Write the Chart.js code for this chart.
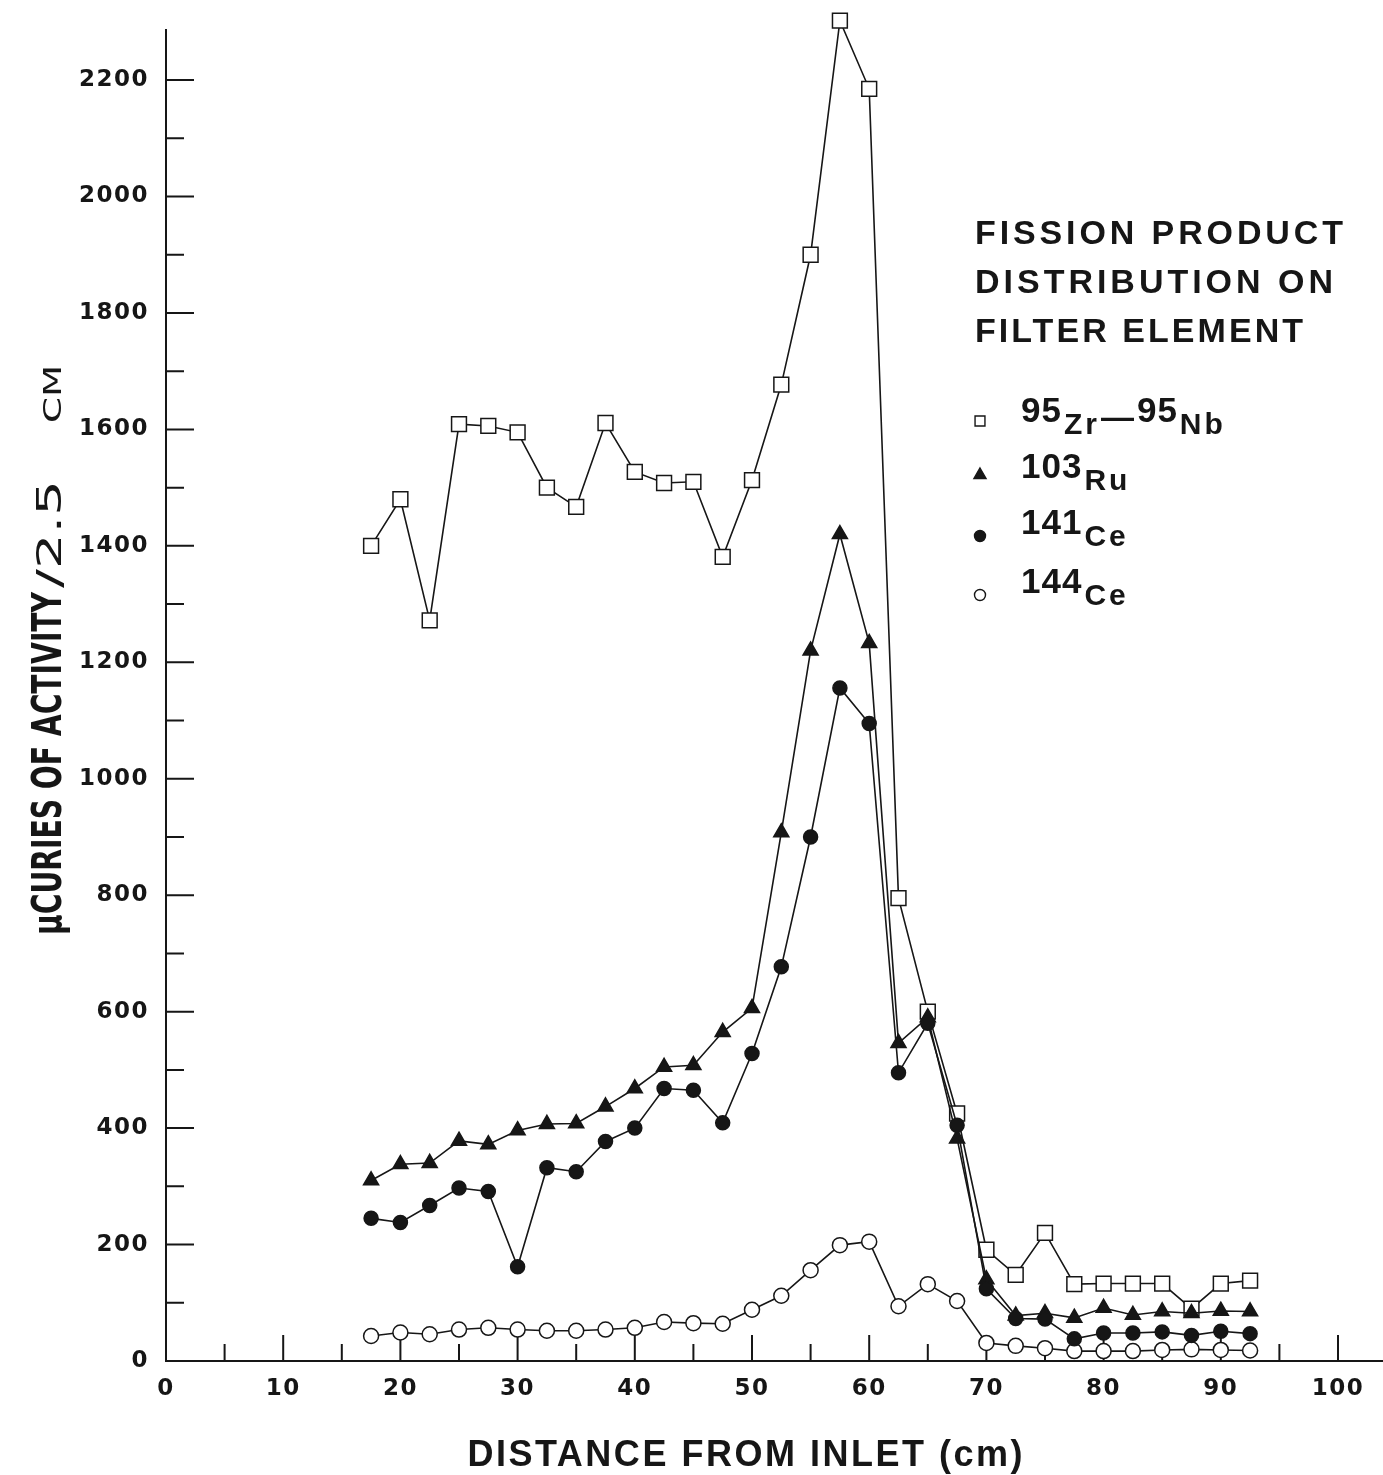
<!DOCTYPE html>
<html>
<head>
<meta charset="utf-8">
<title>Fission product distribution on filter element</title>
<script src="https://cdn.jsdelivr.net/npm/chart.js@4.4.1/dist/chart.umd.min.js"></script>
<style>
  html, body { margin: 0; padding: 0; background: #fff; }
  #wrap { width: 1383px; height: 1475px; }
</style>
</head>
<body>
<div id="wrap"><canvas id="fissionChart" width="1383" height="1475"></canvas></div>
<script>
// distance from inlet (cm), one sample every 2.5 cm
const distance = [17.5, 20, 22.5, 25, 27.5, 30, 32.5, 35, 37.5, 40, 42.5, 45, 47.5, 50, 52.5,
                  55, 57.5, 60, 62.5, 65, 67.5, 70, 72.5, 75, 77.5, 80, 82.5, 85, 87.5, 90, 92.5];

// microcuries of activity per 2.5 cm
const zrNb  = [1400, 1480, 1272, 1609, 1606, 1595, 1500, 1467, 1611, 1527, 1508, 1510, 1381, 1513, 1677,
               1900, 2302, 2185, 795, 600, 425, 191, 148, 220, 132, 133, 133, 133, 90, 133, 138];
const ru103 = [310, 338, 340, 378, 372, 396, 407, 408, 437, 468, 505, 508, 565, 606, 908,
               1220, 1420, 1233, 546, 590, 382, 140, 78, 82, 74, 91, 79, 85, 82, 86, 85];
const ce141 = [245, 238, 267, 297, 291, 162, 332, 325, 377, 400, 468, 465, 409, 528, 677,
               900, 1156, 1095, 495, 580, 405, 124, 73, 72, 38, 48, 48, 50, 44, 51, 47];
const ce144 = [43, 49, 46, 54, 57, 54, 52, 52, 54, 57, 67, 65, 64, 88, 112,
               156, 199, 205, 94, 132, 103, 31, 26, 22, 17, 17, 17, 19, 20, 19, 18];

// legend: mass numbers and element symbols
const isotopeMass   = [['95', '95'], ['103'], ['141'], ['144']];
const isotopeSymbol = [['Zr', 'Nb'], ['Ru'], ['Ce'], ['Ce']];

// tick positions and which of them carry a number
const xTickValues = [0, 5, 10, 15, 20, 25, 30, 35, 40, 45, 50, 55, 60, 65, 70, 75, 80, 85, 90, 95, 100];
const xTickLabels = [0, 10, 20, 30, 40, 50, 60, 70, 80, 90, 100];
const yTickValues = [0, 100, 200, 300, 400, 500, 600, 700, 800, 900, 1000, 1100, 1200,
                     1300, 1400, 1500, 1600, 1700, 1800, 1900, 2000, 2100, 2200];
const yTickLabels = [0, 200, 400, 600, 800, 1000, 1200, 1400, 1600, 1800, 2000, 2200];

const INK = '#161616';
const SANS = '"Liberation Sans", Arial, Helvetica, sans-serif';
const WIDE = '"DejaVu Sans", "Liberation Sans", sans-serif';
const NARROW = '"Liberation Sans Narrow", "DejaVu Sans Condensed", "Liberation Sans", sans-serif';

Chart.defaults.font.family = WIDE;
Chart.defaults.color = INK;

const points = vals => distance.map((d, i) => ({ x: d, y: vals[i] }));

function series(label, vals, style, radius, fill, order) {
    return {
        label: label,
        data: points(vals),
        borderColor: INK,
        borderWidth: 1.6,
        tension: 0,
        pointStyle: style,
        pointRadius: radius,
        pointBackgroundColor: fill,
        pointBorderColor: INK,
        pointBorderWidth: 1.5,
        order: order,
        clip: false,
    };
}

const legendLabel = i => isotopeMass[i].map((m, k) => m + isotopeSymbol[i][k]).join('—');

// text spread out to a given width (the original lettering is widely tracked)
function spacedText(ctx, text, x, y, font, width, align) {
    ctx.font = font;
    ctx.letterSpacing = '0px';
    const w0 = ctx.measureText(text).width;
    const gap = (width - w0) / (text.length - 1);
    ctx.letterSpacing = gap + 'px';
    ctx.textAlign = 'left';
    ctx.fillText(text, align === 'center' ? x - width / 2 : x, y);
    ctx.letterSpacing = '0px';
}

// text squeezed / stretched to a given length
function fittedText(ctx, text, x, y, font, width) {
    ctx.font = font;
    ctx.letterSpacing = '0px';
    const w0 = ctx.measureText(text).width;
    ctx.save();
    ctx.translate(x, y);
    ctx.scale(width / w0, 1);
    ctx.textAlign = 'left';
    ctx.fillText(text, 0, 0);
    ctx.restore();
}

const axisFurniture = {
    id: 'axisFurniture',
    beforeDraw(chart) {
        chart.ctx.letterSpacing = '1.5px';   // tick numerals
    },
    beforeDatasetsDraw(chart) {
        const { ctx, chartArea, scales: { x, y } } = chart;
        ctx.save();
        ctx.strokeStyle = INK;
        ctx.lineWidth = 2;
        ctx.beginPath();
        // ticks point into the plot
        y.ticks.forEach(t => {
            const py = y.getPixelForValue(t.value);
            const len = yTickLabels.includes(t.value) ? 28 : 18;
            ctx.moveTo(chartArea.left, py);
            ctx.lineTo(chartArea.left + len, py);
        });
        x.ticks.forEach(t => {
            const px = x.getPixelForValue(t.value);
            const len = xTickLabels.includes(t.value) ? 26 : 17;
            ctx.moveTo(px, chartArea.bottom);
            ctx.lineTo(px, chartArea.bottom - len);
        });
        // axis runs on past 100 to the edge of the sheet
        ctx.moveTo(chartArea.right, chartArea.bottom);
        ctx.lineTo(chart.width, chartArea.bottom);
        ctx.stroke();
        ctx.restore();
    },
    afterDraw(chart) {
        const ctx = chart.ctx;
        ctx.save();
        ctx.letterSpacing = '0px';
        ctx.fillStyle = INK;
        ctx.textBaseline = 'alphabetic';

        // x title
        spacedText(ctx, 'DISTANCE FROM INLET (cm)', 745, 1466, 'bold 36px ' + SANS, 555, 'center');

        // y title, reading upwards
        ctx.save();
        ctx.translate(61, 935);
        ctx.rotate(-Math.PI / 2);
        fittedText(ctx, 'μCURIES OF ACTIVITY', 0, 0, 'bold 40px ' + NARROW, 343);
        fittedText(ctx, '/2.5', 347, 0, 'normal 34px ' + NARROW, 108);
        fittedText(ctx, 'CM', 512, 0, 'normal 25px ' + NARROW, 58);
        ctx.restore();

        // legend block
        const head = ['FISSION PRODUCT', 'DISTRIBUTION ON', 'FILTER ELEMENT'];
        const headW = [368, 358, 328];
        head.forEach((t, i) => spacedText(ctx, t, 975, 244 + i * 49, 'bold 34px ' + SANS, headW[i]));

        const massBase = [422, 478, 534, 593];
        const markerY = [421, 475, 536, 595];
        chart.data.datasets.forEach((ds, i) => {
            ctx.fillStyle = ds.pointBackgroundColor;
            ctx.strokeStyle = INK;
            ctx.lineWidth = 1.4;
            const r = ds.pointStyle === 'circle' ? 5.5 : 7;
            Chart.helpers.drawPoint(ctx, { pointStyle: ds.pointStyle, radius: r, borderWidth: 1.4, rotation: 0 }, 980, markerY[i]);

            ctx.fillStyle = INK;
            let px = 1021;
            isotopeMass[i].forEach((m, k) => {
                if (k > 0) {
                    ctx.font = 'bold 33px ' + SANS;
                    ctx.letterSpacing = '0px';
                    ctx.fillText('—', px + 1, massBase[i] + 6);
                    px += ctx.measureText('—').width + 4;
                }
                ctx.font = 'bold 35px ' + SANS;
                ctx.letterSpacing = '1px';
                ctx.fillText(m, px, massBase[i]);
                px += ctx.measureText(m).width + 2;
                ctx.font = 'bold 30px ' + SANS;
                ctx.letterSpacing = '3px';
                ctx.fillText(isotopeSymbol[i][k], px, massBase[i] + 12);
                px += ctx.measureText(isotopeSymbol[i][k]).width;
            });
            ctx.letterSpacing = '0px';
        });
        ctx.restore();
    }
};

new Chart(document.getElementById('fissionChart'), {
    type: 'line',
    data: {
        datasets: [
            series(legendLabel(0), zrNb, 'rect', 10.5, '#fff', 4),
            series(legendLabel(1), ru103, 'triangle', 8.7, INK, 2),
            series(legendLabel(2), ce141, 'circle', 7, INK, 1),
            series(legendLabel(3), ce144, 'circle', 7.5, '#fff', 3),
        ],
    },
    options: {
        responsive: false,
        animation: false,
        layout: { padding: { top: 30, right: 45, left: 0, bottom: 0 } },
        plugins: {
            legend: { display: false },
            tooltip: { enabled: false },
        },
        scales: {
            x: {
                type: 'linear',
                min: 0,
                max: 100,
                grid: { display: false },
                border: { display: true, color: INK, width: 2 },
                afterBuildTicks: s => { s.ticks = xTickValues.map(v => ({ value: v })); },
                afterFit: s => { s.height = 114; },
                ticks: {
                    autoSkip: false,
                    maxRotation: 0,
                    padding: 6,
                    color: INK,
                    font: { size: 23, weight: 'bold' },
                    callback: v => (xTickLabels.includes(v) ? String(v) : ''),
                },
            },
            y: {
                min: 0,
                max: 2286,
                grid: { display: false },
                border: { display: true, color: INK, width: 2 },
                afterBuildTicks: s => { s.ticks = yTickValues.map(v => ({ value: v })); },
                afterFit: s => { s.width = 166; },
                ticks: {
                    autoSkip: false,
                    padding: 9,
                    color: INK,
                    font: { size: 23, weight: 'bold' },
                    callback: v => (yTickLabels.includes(v) ? String(v) : ''),
                },
            },
        },
    },
    plugins: [axisFurniture],
});
</script>
</body>
</html>
